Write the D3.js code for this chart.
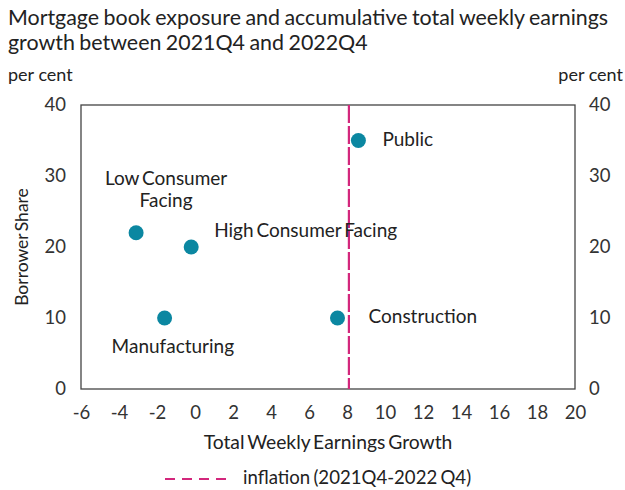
<!DOCTYPE html>
<html>
<head>
<meta charset="utf-8">
<script src="https://cdn.jsdelivr.net/npm/d3@7"></script>
<style>
  body { margin: 0; background: #fff; }
  svg { display: block; font-family: Lato, "Open Sans", sans-serif; }
</style>
</head>
<body>
<div id="chart"></div>
<script>
// data
const sectors = ["Public", "Low Consumer Facing", "High Consumer Facing", "Manufacturing", "Construction"];
const earningsGrowth = [8.6, -3.1, -0.2, -1.6, 7.5];
const borrowerShare = [35, 22, 20, 10, 10];
const inflation = 8.1;
const xTicks = [-6, -4, -2, 0, 2, 4, 6, 8, 10, 12, 14, 16, 18, 20];
const yTicks = [0, 10, 20, 30, 40];

// label placement, in pixels relative to the dot
const labelOffsets = {
  "Public": { dx: 24, dy: 0, anchor: "start", lines: ["Public"] },
  "Low Consumer Facing": { dx: 30, dy: -53, anchor: "middle", lines: ["Low Consumer", "Facing"] },
  "High Consumer Facing": { dx: 23, dy: -15, anchor: "start", lines: ["High Consumer Facing"] },
  "Manufacturing": { dx: -53, dy: 30, anchor: "start", lines: ["Manufacturing"] },
  "Construction": { dx: 31, dy: 0, anchor: "start", lines: ["Construction"] }
};

const width = 625, height = 490;
const margin = { top: 105, right: 50, bottom: 101, left: 81 };

const svg = d3.select("#chart").append("svg")
  .attr("width", width).attr("height", height);

const x = d3.scaleLinear().domain([-6, 20]).range([margin.left, width - margin.right]);
const y = d3.scaleLinear().domain([0, 40]).range([height - margin.bottom, margin.top]);

const textCol = "#222";
const teal = "#0b87a1";
const pink = "#d3277c";

// title
svg.append("text").attr("x", 8).attr("y", 25)
  .attr("font-size", 21.4).attr("fill", textCol).attr("word-spacing", -1)
  .text("Mortgage book exposure and accumulative total weekly earnings");
svg.append("text").attr("x", 8).attr("y", 50)
  .attr("font-size", 21.4).attr("fill", textCol).attr("word-spacing", -1)
  .text("growth between 2021Q4 and 2022Q4");

svg.append("text").attr("x", 8).attr("y", 81).attr("font-size", 18).attr("fill", textCol).text("per cent");
svg.append("text").attr("x", 623).attr("y", 81).attr("text-anchor", "end").attr("font-size", 18).attr("fill", textCol).text("per cent");

// frame
svg.append("rect")
  .attr("x", x(-6)).attr("y", y(40))
  .attr("width", x(20) - x(-6)).attr("height", y(0) - y(40))
  .attr("fill", "none").attr("stroke", "#444").attr("stroke-width", 1.3);

// axes (labels only, no tick marks)
const fmt = (d) => String(d);
const xAxis = svg.append("g").attr("transform", `translate(0,${y(0)})`)
  .call(d3.axisBottom(x).tickValues(xTicks).tickFormat(fmt).tickSize(0).tickPadding(17));
const yLeft = svg.append("g").attr("transform", `translate(${x(-6)},0)`)
  .call(d3.axisLeft(y).tickValues(yTicks).tickFormat(fmt).tickSize(0).tickPadding(15));
const yRight = svg.append("g").attr("transform", `translate(${x(20)},0)`)
  .call(d3.axisRight(y).tickValues(yTicks).tickFormat(fmt).tickSize(0).tickPadding(14));
[xAxis, yLeft, yRight].forEach((g) => {
  g.select(".domain").remove();
  g.selectAll("text").attr("font-size", 18.5).attr("fill", "#333").attr("font-family", "Lato, sans-serif");
});

// axis titles
svg.append("text").attr("x", (x(-6) + x(20)) / 2).attr("y", 449)
  .attr("text-anchor", "middle").attr("font-size", 19.3).attr("fill", textCol).attr("word-spacing", -2)
  .text("Total Weekly Earnings Growth");
svg.append("text")
  .attr("transform", `translate(28,${(y(0) + y(40)) / 2}) rotate(-90)`)
  .attr("text-anchor", "middle").attr("font-size", 17.5).attr("fill", textCol).attr("word-spacing", -2)
  .text("Borrower Share");

// inflation line
svg.append("line")
  .attr("x1", x(inflation)).attr("x2", x(inflation))
  .attr("y1", y(40)).attr("y2", y(0))
  .attr("stroke", pink).attr("stroke-width", 2.2)
  .attr("stroke-dasharray", "18 3");

// points
const pts = sectors.map((s, i) => ({ name: s, gx: earningsGrowth[i], share: borrowerShare[i] }));
svg.append("g").selectAll("circle").data(pts).join("circle")
  .attr("cx", (d) => x(d.gx)).attr("cy", (d) => y(d.share))
  .attr("r", 7.5).attr("fill", teal);

// point labels
pts.forEach((d) => {
  const o = labelOffsets[d.name];
  const t = svg.append("text")
    .attr("font-size", 19).attr("fill", textCol).attr("word-spacing", -2)
    .attr("text-anchor", o.anchor)
    .attr("dominant-baseline", "middle");
  o.lines.forEach((ln, i) => {
    t.append("tspan")
      .attr("x", x(d.gx) + o.dx)
      .attr("y", y(d.share) + o.dy + i * 22)
      .text(ln);
  });
});

// legend
svg.append("line").attr("x1", 165).attr("x2", 232).attr("y1", 479).attr("y2", 479)
  .attr("stroke", pink).attr("stroke-width", 2.2).attr("stroke-dasharray", "10 7");
svg.append("text").attr("x", 243).attr("y", 479).attr("dominant-baseline", "middle")
  .attr("font-size", 18.6).attr("fill", textCol).attr("word-spacing", -1.5)
  .text("inflation (2021Q4-2022 Q4)");
</script>
</body>
</html>
